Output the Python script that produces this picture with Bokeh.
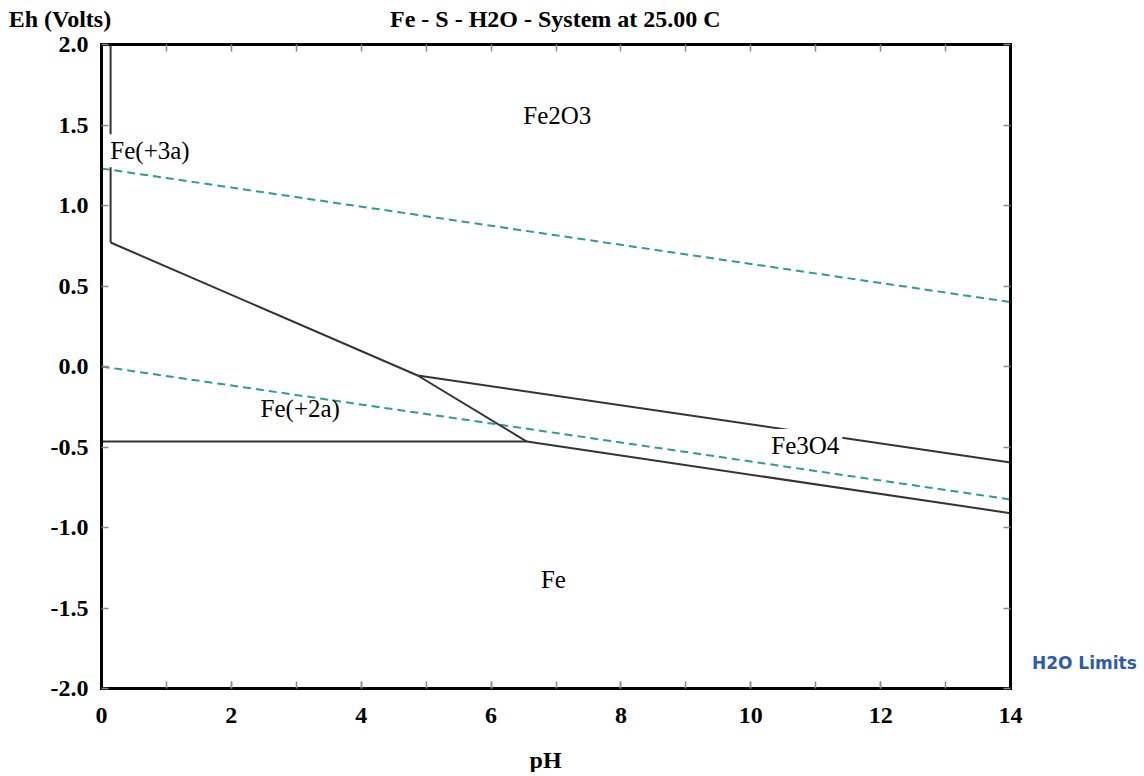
from bokeh.plotting import figure
from bokeh.models import Range1d, LinearAxis, FixedTicker, Label, PrintfTickFormatter
from bokeh.embed import file_html
from bokeh.resources import INLINE

# ---- data (pH, Eh in volts) ----
title_text = "Fe - S - H2O - System at 25.00 C"
x_title = "pH"
y_title = "Eh (Volts)"
legend_text = "H2O Limits"

x_min, x_max = 0.0, 14.0
y_min, y_max = -2.0, 2.0
x_major = [0, 2, 4, 6, 8, 10, 12, 14]
x_minor = list(range(0, 15))
y_major = [-2.0, -1.5, -1.0, -0.5, 0.0, 0.5, 1.0, 1.5, 2.0]

# phase boundaries
fe3_fe2o3_ph = [0.14, 0.14]
fe3_fe2o3_eh = [2.0, 0.77]
fe2_fe2o3_ph = [0.14, 4.87]
fe2_fe2o3_eh = [0.77, -0.056]
fe2_fe3o4_ph = [4.87, 6.55]
fe2_fe3o4_eh = [-0.056, -0.466]
fe2o3_fe3o4_ph = [4.87, 14.0]
fe2o3_fe3o4_eh = [-0.056, -0.596]
fe2_fe_ph = [0.0, 6.55]
fe2_fe_eh = [-0.466, -0.466]
fe3o4_fe_ph = [6.55, 14.0]
fe3o4_fe_eh = [-0.466, -0.911]

# water stability limits
o2_ph = [0.0, 14.0]
o2_eh = [1.23, 0.40]
h2_ph = [0.0, 14.0]
h2_eh = [0.0, -0.826]

# species labels: name, pH, Eh
species = ["Fe2O3", "Fe(+3a)", "Fe(+2a)", "Fe3O4", "Fe"]
species_ph = [7.02, 0.09, 2.45, 10.27, 6.96]
species_eh = [1.56, 1.34, -0.26, -0.49, -1.32]
species_align = ["center", "left", "left", "left", "center"]
species_bg = [None, "white", None, "white", None]

# ---- layout (pixels) ----
CANVAS_W, CANVAS_H = 1140, 772
PX_LEFT, PX_RIGHT, PX_TOP, PX_BOTTOM = 101, 1010, 44, 688
sx = (PX_RIGHT - PX_LEFT) / (x_max - x_min)
sy = (PX_BOTTOM - PX_TOP) / (y_max - y_min)
x_lo = x_min - PX_LEFT / sx
x_hi = x_lo + CANVAS_W / sx
y_hi = y_max + PX_TOP / sy
y_lo = y_hi - CANVAS_H / sy

SERIF = "Liberation Serif"

p = figure(width=CANVAS_W, height=CANVAS_H, x_range=Range1d(x_lo, x_hi), y_range=Range1d(y_lo, y_hi),
           output_backend="svg", toolbar_location=None,
           x_axis_location=None, y_axis_location=None,
           min_border=0, min_border_left=0, min_border_right=0, min_border_top=0, min_border_bottom=0)
p.xgrid.visible = False
p.ygrid.visible = False
p.outline_line_color = None
p.background_fill_color = "white"
p.border_fill_color = "white"


def style_axis(ax, bounds):
    ax.bounds = bounds
    ax.axis_line_color = "black"
    ax.axis_line_width = 3
    ax.axis_line_cap = "square"
    ax.major_tick_in = 7
    ax.major_tick_out = 0
    ax.minor_tick_in = 7
    ax.minor_tick_out = 0
    ax.major_tick_line_color = "#8a8a8a"
    ax.minor_tick_line_color = "#8a8a8a"
    ax.major_tick_line_width = 1.5
    ax.minor_tick_line_width = 1.5
    ax.major_label_text_font = SERIF
    ax.major_label_text_font_style = "bold"
    ax.major_label_text_font_size = "24px"
    ax.major_label_text_color = "black"


xb = LinearAxis(fixed_location=y_min, ticker=FixedTicker(ticks=x_major, minor_ticks=x_minor))
style_axis(xb, (x_min, x_max))
xb.major_label_standoff = 19
p.add_layout(xb, "below")

xt = LinearAxis(fixed_location=y_max, ticker=FixedTicker(ticks=[], minor_ticks=x_minor))
style_axis(xt, (x_min, x_max))
p.add_layout(xt, "above")

yl = LinearAxis(fixed_location=x_min, ticker=FixedTicker(ticks=y_major, minor_ticks=[]),
                formatter=PrintfTickFormatter(format="%.1f"))
style_axis(yl, (y_min, y_max))
yl.major_label_standoff = 13
p.add_layout(yl, "left")

yr = LinearAxis(fixed_location=x_max, ticker=FixedTicker(ticks=[], minor_ticks=y_major))
style_axis(yr, (y_min, y_max))
p.add_layout(yr, "right")

# water limits (dashed teal)
for xs, ys in [(o2_ph, o2_eh), (h2_ph, h2_eh)]:
    p.line(xs, ys, line_color="#2f9a9a", line_width=2, line_dash="8 5")

# phase boundaries (solid)
for xs, ys in [(fe3_fe2o3_ph, fe3_fe2o3_eh), (fe2_fe2o3_ph, fe2_fe2o3_eh),
               (fe2_fe3o4_ph, fe2_fe3o4_eh), (fe2o3_fe3o4_ph, fe2o3_fe3o4_eh),
               (fe2_fe_ph, fe2_fe_eh), (fe3o4_fe_ph, fe3o4_fe_eh)]:
    p.line(xs, ys, line_color="#333333", line_width=2)

for name, xv, yv, al, bg in zip(species, species_ph, species_eh, species_align, species_bg):
    lab = Label(x=xv, y=yv, text=name, text_font=SERIF, text_font_size="25px",
                text_align=al, text_baseline="middle", text_color="black")
    if bg:
        lab.background_fill_color = bg
        lab.padding = 3
    p.add_layout(lab)

# titles
p.add_layout(Label(x=6.99, y=2.16, text=title_text, text_font=SERIF, text_font_size="24px",
                   text_font_style="bold", text_align="center", text_baseline="middle",
                   text_color="black"))
p.add_layout(Label(x=-1.43, y=2.16, text=y_title, text_font=SERIF, text_font_size="24px",
                   text_font_style="bold", text_align="left", text_baseline="middle",
                   text_color="black"))
p.add_layout(Label(x=6.84, y=-2.447, text=x_title, text_font=SERIF, text_font_size="24px",
                   text_font_style="bold", text_align="center", text_baseline="middle",
                   text_color="black"))
p.add_layout(Label(x=14.33, y=-1.84, text=legend_text, text_font="DejaVu Sans",
                   text_font_size="17px", text_font_style="bold", text_color="#2d5cab",
                   text_align="left", text_baseline="middle"))

open("out.html", "w").write(file_html(p, INLINE))
